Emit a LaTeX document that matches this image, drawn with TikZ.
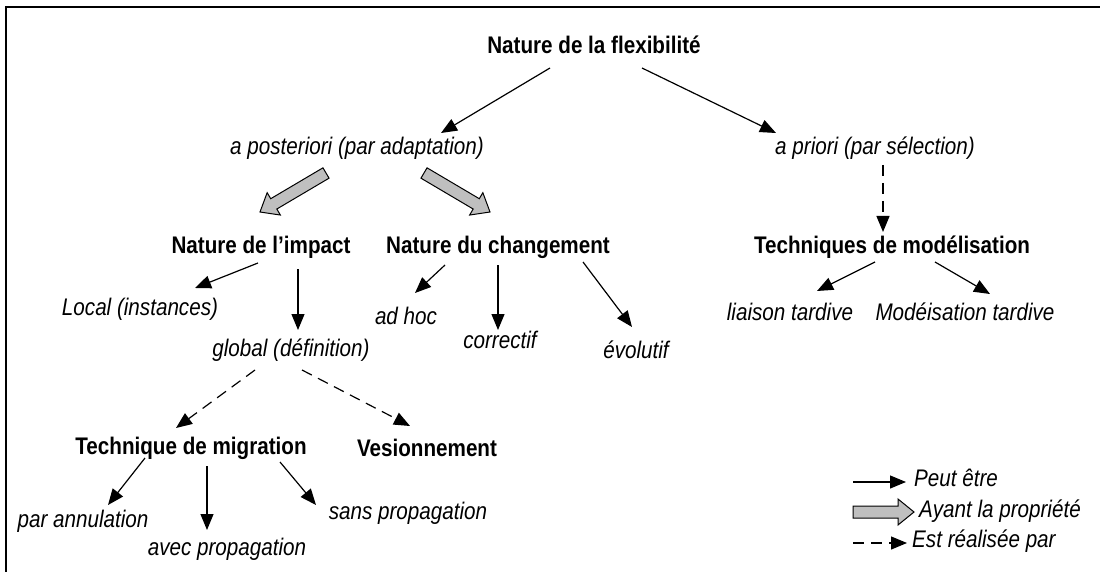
\documentclass[tikz,border=0pt]{standalone}
\usepackage{fontspec}
\setmainfont{Liberation Sans}[FakeStretch=0.86]
\usetikzlibrary{arrows.meta,calc}
\begin{document}
\begin{tikzpicture}[x=1pt,y=-1pt,
  lbl/.style={inner sep=0pt, font=\fontsize{24}{28}\selectfont\itshape},
  hd/.style={inner sep=0pt, font=\fontsize{24}{28}\selectfont\bfseries},
  arr/.style={-{Triangle[length=16pt,width=13pt]}, line width=1.2pt},
  darr/.style={arr, dash pattern=on 11pt off 7pt},
  garr/.style={draw=black, fill=gray!50, line width=1pt,
    to path={let \p3=($(\tikztotarget)!16pt!(\tikztostart)$) in
      ($(\tikztostart)!6pt!90:(\tikztotarget)$) -- ($(\p3)!6pt!90:(\tikztotarget)$)
      -- ($(\p3)!13pt!90:(\tikztotarget)$) -- (\tikztotarget)
      -- ($(\p3)!13pt!-90:(\tikztotarget)$) -- ($(\p3)!6pt!-90:(\tikztotarget)$)
      -- ($(\tikztostart)!6pt!-90:(\tikztotarget)$) -- cycle}},
  frame/.style={line width=1.8pt}
]
\useasboundingbox (0,0) rectangle (1100,572);
\coordinate (fbl) at (6,572);
\coordinate (ftl) at (6,7);
\coordinate (ftr) at (1100,7);
\draw[frame] (fbl) -- (ftl) -- (ftr);

% nodes
\node[hd]  (title)  at (594,45)  {Nature de la flexibilité};
\node[lbl] (apost)  at (357,148) {a posteriori (par adaptation)};
\node[lbl] (aprio)  at (875,148) {a priori (par sélection)};
\node[hd]  (impact) at (261,247) {Nature de l’impact};
\node[hd]  (chang)  at (498,247) {Nature du changement};
\node[hd]  (model)  at (892,247) {Techniques de modélisation};
\node[lbl] (local)  at (140,309) {Local (instances)};
\node[lbl] (global) at (291,350) {global (définition)};
\node[lbl] (adhoc)  at (406,316) {ad hoc};
\node[lbl] (corr)   at (500,340) {correctif};
\node[lbl] (evol)   at (636,350) {évolutif};
\node[lbl] (liais)  at (790,312) {liaison tardive};
\node[lbl] (modeis) at (965,312) {Modéisation tardive};
\node[hd]  (migr)   at (191,448) {Technique de migration};
\node[hd]  (vers)   at (427,448) {Vesionnement};
\node[lbl] (annul)  at (83,521)  {par annulation};
\node[lbl] (avec)   at (227,549) {avec propagation};
\node[lbl] (sans)   at (408,513) {sans propagation};
\node[lbl,anchor=west] (peut) at (914,478) {Peut être};
\node[lbl,anchor=west] (ayant) at (919,511) {Ayant la propriété};
\node[lbl,anchor=west] (est) at (912,541) {Est réalisée par};

% connectors
\draw[arr] ([shift={(-44,23)}]title.center) -- ([shift={(84,-15)}]apost.center);
\draw[arr] ([shift={(48,23)}]title.center) -- ([shift={(-99,-15)}]aprio.center);
\path ([shift={(-31,25)}]apost.center) edge[garr] ([shift={(-1,-35)}]impact.center);
\path ([shift={(67,25)}]apost.center) edge[garr] ([shift={(-8,-35)}]chang.center);
\draw[darr] ([shift={(8,17)}]aprio.center) -- ([shift={(-9,-15)}]model.center);
\draw[arr] ([shift={(-3,16)}]impact.center) -- ([shift={(55,-21)}]local.center);
\draw[arr] ([shift={(37,22)}]impact.center) -- ([shift={(7,-20)}]global.center);
\draw[arr] ([shift={(-53,18)}]chang.center) -- ([shift={(9,-23)}]adhoc.center);
\draw[arr] ([shift={(0,18)}]chang.center) -- ([shift={(-2,-10)}]corr.center);
\draw[arr] ([shift={(85,15)}]chang.center) -- ([shift={(-4,-23)}]evol.center);
\draw[arr] ([shift={(-17,15)}]model.center) -- ([shift={(27,-21)}]liais.center);
\draw[arr] ([shift={(43,15)}]model.center) -- ([shift={(25,-18)}]modeis.center);
\draw[darr] ([shift={(-36,20)}]global.center) -- ([shift={(-15,-20)}]migr.center);
\draw[darr] ([shift={(11,20)}]global.center) -- ([shift={(-17,-22)}]vers.center);
\draw[arr] ([shift={(-46,10)}]migr.center) -- ([shift={(25,-16)}]annul.center);
\draw[arr] ([shift={(16,18)}]migr.center) -- ([shift={(-20,-19)}]avec.center);
\draw[arr] ([shift={(89,14)}]migr.center) -- ([shift={(-92,-8)}]sans.center);

% legend
\coordinate (l1) at (853,482);
\coordinate (l2) at (853,512);
\coordinate (l3) at (853,543);
\draw[arr] (l1) -- ([xshift=-8pt]l1 -| peut.west);
\path (l2) edge[garr] ([xshift=-5pt]l2 -| ayant.west);
\draw[darr] (l3) -- ([xshift=-5pt]l3 -| est.west);
\end{tikzpicture}
\end{document}
